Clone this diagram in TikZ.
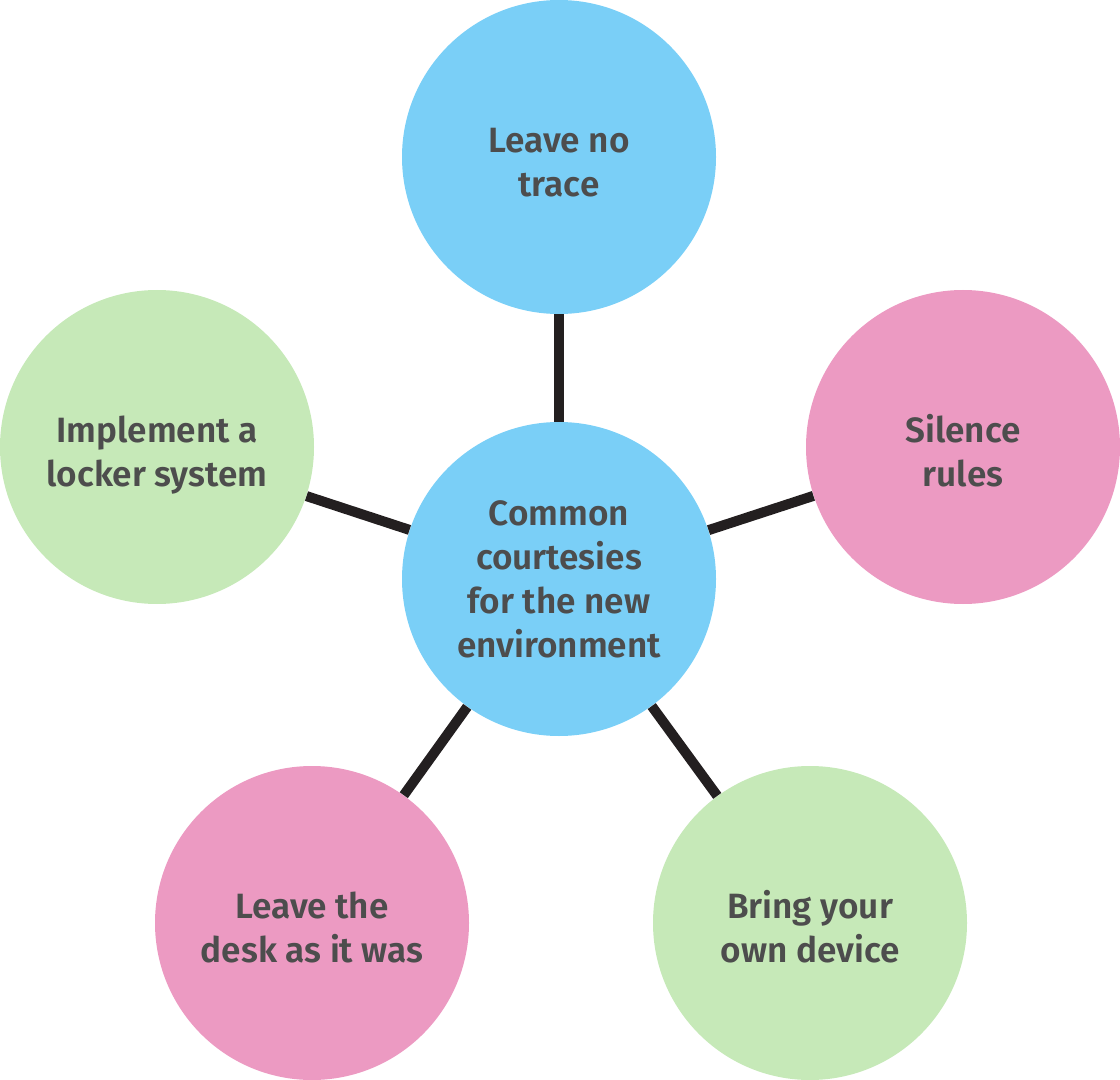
\documentclass[tikz,border=0pt]{standalone}
\usepackage{fontspec}
\setmainfont{Fira Sans}[BoldFont={Fira Sans SemiBold}]
\usepackage{tikz}
\usetikzlibrary{positioning}
\usepackage{xcolor}
\definecolor{hubblue}{HTML}{7ACFF7}
\definecolor{leafgreen}{HTML}{C6E9B8}
\definecolor{leafpink}{HTML}{EC9AC2}
\definecolor{txtgray}{HTML}{4D4D4D}
\definecolor{linkdark}{HTML}{231F20}

\begin{document}
\begin{tikzpicture}[
    bubble/.style={circle,minimum size=6.28cm,inner sep=0pt,align=center,
      text=txtgray,font=\bfseries\fontsize{20}{25}\selectfont},
    leaf/.style={bubble,text height=1.68cm,text depth=0.1cm},
    link/.style={linkdark,line width=5.7pt}]
  \useasboundingbox (0,0) rectangle (22.4,-21.6);
  % hub and the five leaves
  \node[bubble,fill=hubblue] (hub) at (11.18,-11.58) {Common\\courtesies\\for the new\\environment};
  \node[leaf,fill=hubblue] (trace) at (11.18,-3.14) {Leave no\\trace};
  \node[leaf,fill=leafgreen] (locker) at (3.14,-8.94) {Implement a\\locker system};
  \node[leaf,fill=leafpink] (silence) at (19.26,-8.94) {Silence\\rules};
  \node[leaf,fill=leafpink] (desk) at (6.24,-18.46) {Leave the\\desk as it was};
  \node[leaf,fill=leafgreen] (device) at (16.2,-18.46) {Bring your\\own device};
  % spokes
  \draw[link] (hub) -- (trace);
  \draw[link] (hub) -- (locker);
  \draw[link] (hub) -- (silence);
  \draw[link] (hub) -- (desk);
  \draw[link] (hub) -- (device);
\end{tikzpicture}
\end{document}
